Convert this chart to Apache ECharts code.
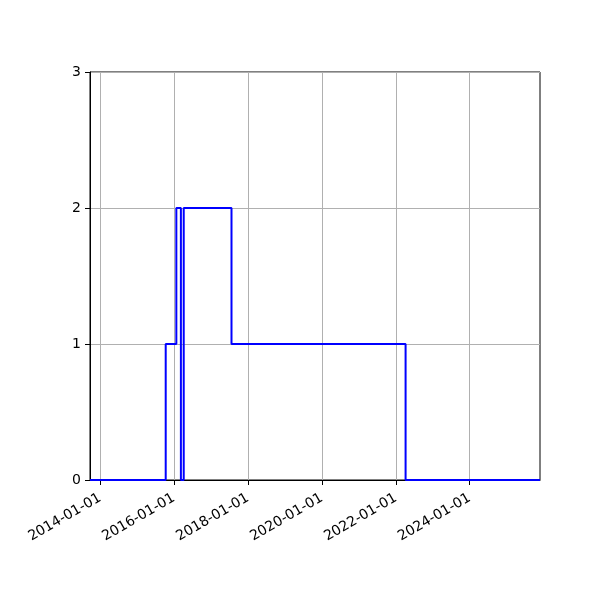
<!DOCTYPE html>
<html>
<head>
<meta charset="utf-8">
<script src="https://cdn.jsdelivr.net/npm/echarts@6/dist/echarts.min.js"></script>
<style>html,body{margin:0;padding:0;background:#fff}#c{width:600px;height:600px}</style>
</head>
<body>
<div id="c"></div>
<script>
// Step change dates and values (value holds until next date)
const stepDates = ['2013-09-24','2015-10-12','2016-01-25','2016-03-10','2016-04-07','2017-07-23','2022-04-08','2025-11-26'];
const stepValues = [0, 1, 2, 0, 2, 1, 0, 0];
const xTickDates = ['2014-01-01','2016-01-01','2018-01-01','2020-01-01','2022-01-01','2024-01-01'];
const yTicks = [0, 1, 2, 3];

function ts(s){ const p = s.split('-').map(Number); return Date.UTC(p[0], p[1]-1, p[2]); }
function fmt(v){ const d = new Date(v); const pad = n => (n<10?'0':'')+n; return d.getUTCFullYear()+'-'+pad(d.getUTCMonth()+1)+'-'+pad(d.getUTCDate()); }

const data = stepDates.map((d,i)=>[ts(d), stepValues[i]]);
const xTicks = xTickDates.map(ts);

const chart = echarts.init(document.getElementById('c'), null, {renderer:'canvas'});
chart.setOption({
  animation: false,
  backgroundColor: '#fff',
  grid: {left: 90, right: 60, top: 72, bottom: 120, show: true, borderColor: '#000', borderWidth: 1, backgroundColor: 'transparent'},
  xAxis: {
    type: 'value',
    min: ts(stepDates[0]), max: ts(stepDates[stepDates.length-1]),
    axisLine: {show: true, lineStyle: {color: '#000', width: 1}},
    axisTick: {show: true, length: 5, lineStyle: {color: '#000'}, customValues: xTicks},
    axisLabel: {customValues: xTicks, formatter: v => fmt(v), rotate: 30, color: '#000', fontSize: 14, fontFamily: 'DejaVu Sans', margin: 17, showMinLabel: true, showMaxLabel: true},
    splitLine: {show: true, lineStyle: {color: '#b0b0b0', width: 1}}
  },
  yAxis: {
    type: 'value', min: yTicks[0], max: yTicks[yTicks.length-1], interval: 1,
    axisLine: {show: true, lineStyle: {color: '#000', width: 1}},
    axisTick: {show: true, length: 5, lineStyle: {color: '#000'}},
    axisLabel: {color: '#000', fontSize: 14, fontFamily: 'DejaVu Sans', margin: 9},
    splitLine: {show: true, lineStyle: {color: '#b0b0b0', width: 1}}
  },
  series: [{
    type: 'line', step: 'end', data: data, showSymbol: false, symbol: 'none',
    lineStyle: {color: '#0000ff', width: 2}, clip: true
  }]
});
</script>
</body>
</html>
